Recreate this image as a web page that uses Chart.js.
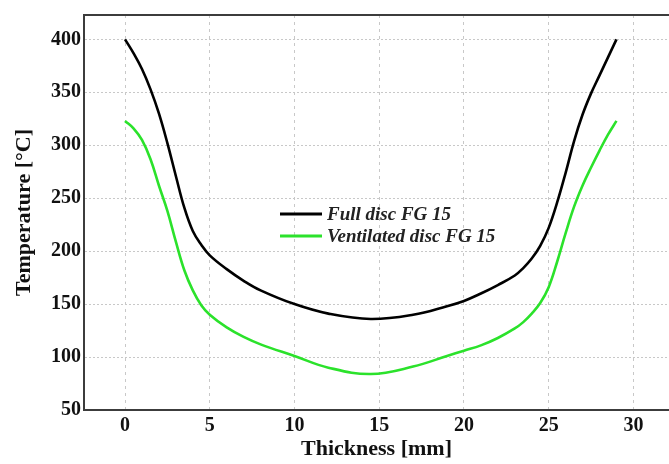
<!DOCTYPE html>
<html>
<head>
<meta charset="utf-8">
<script src="https://cdn.jsdelivr.net/npm/chart.js@4.4.1/dist/chart.umd.min.js"></script>
<style>
  html, body { margin: 0; padding: 0; background: #fff; }
  #wrap { width: 669px; height: 464px; }
</style>
</head>
<body>
<div id="wrap"><canvas id="tempChart" width="669" height="464"></canvas></div>
<script>
// thickness positions [mm]
const thickness = [0, 0.5, 1, 1.5, 2, 2.5, 3, 3.5, 4, 4.5, 5, 6, 7, 8, 10, 12, 14.5, 17, 19, 20, 21, 22, 23, 23.5, 24, 24.5, 25, 25.5, 26, 26.5, 27, 27.5, 28, 28.5, 29];

// temperatures [°C]
const fullDisc = [400, 387, 372, 353, 330, 302, 271, 241, 219, 206, 196, 183, 172, 163, 150, 141, 136, 140, 148, 153, 160, 168, 177, 184, 193, 205, 222, 246, 274, 304, 329, 349, 366, 383, 400];
const ventilatedDisc = [323, 316, 305, 287, 262, 238, 209, 182, 163, 149, 140, 128, 119, 112, 101, 90, 84, 91, 101, 106, 111, 118, 127, 133, 141, 151, 166, 190, 217, 242, 262, 279, 295, 310, 323];

const seriesNames = ["Full disc FG 15", "Ventilated disc FG 15"];
const seriesColors = ["#000000", "#2be22b"];

const xTicks = [0, 5, 10, 15, 20, 25, 30];
const yTicks = [50, 100, 150, 200, 250, 300, 350, 400];

const toPoints = (vals) => vals.map((v, i) => ({ x: thickness[i], y: v }));

const serif = "'Liberation Serif', 'Times New Roman', serif";
const axisColor = "#3c3c3c";
const gridColor = "#c8c8c8";

// top frame line and the legend inside the plot
const framePlugin = {
    id: "frame",
    afterDraw(chart) {
        const { ctx, chartArea } = chart;
        ctx.save();
        ctx.strokeStyle = axisColor;
        ctx.lineWidth = 2;
        ctx.beginPath();
        ctx.moveTo(chartArea.left, chartArea.top);
        ctx.lineTo(chartArea.right, chartArea.top);
        ctx.stroke();

        ctx.font = "italic bold 19px " + serif;
        ctx.textBaseline = "middle";
        seriesNames.forEach((name, i) => {
            const y = 214 + i * 22;
            ctx.strokeStyle = seriesColors[i];
            ctx.lineWidth = 3;
            ctx.beginPath();
            ctx.moveTo(280, y);
            ctx.lineTo(322, y);
            ctx.stroke();
            ctx.fillStyle = "#222";
            ctx.fillText(name, 327, y + 1);
        });
        ctx.restore();
    },
};

const lineStyle = {
    borderWidth: 2.6,
    pointRadius: 0,
    tension: 0.4,
};

const config = {
    type: "line",
    data: {
        datasets: [
            { label: seriesNames[0], data: toPoints(fullDisc), borderColor: seriesColors[0], ...lineStyle },
            { label: seriesNames[1], data: toPoints(ventilatedDisc), borderColor: seriesColors[1], ...lineStyle },
        ],
    },
    options: {
        responsive: false,
        animation: false,
        layout: { padding: { top: 11, right: 0, left: 0, bottom: 0 } },
        plugins: {
            legend: { display: false },
            tooltip: { enabled: false },
        },
        scales: {
            x: {
                type: "linear",
                min: -2.42,
                max: 32.1,
                afterBuildTicks: (scale) => { scale.ticks = xTicks.map((v) => ({ value: v })); },
                afterFit: (scale) => { scale.height = 54; },
                grid: { color: gridColor, drawTicks: false },
                // border.dash sets the dash of the grid lines
                border: { color: axisColor, width: 2, dash: [3, 4] },
                ticks: {
                    padding: 4,
                    color: "#111",
                    font: { family: serif, size: 20, weight: "bold" },
                },
                title: {
                    display: true,
                    text: "Thickness [mm]",
                    color: "#111",
                    padding: { top: 0, bottom: 1 },
                    font: { family: serif, size: 22, weight: "bold" },
                },
            },
            y: {
                min: 50,
                max: 423,
                afterBuildTicks: (scale) => { scale.ticks = yTicks.map((v) => ({ value: v })); },
                afterFit: (scale) => { scale.width = 84; },
                grid: { color: gridColor, drawTicks: false },
                border: { color: axisColor, width: 2, dash: [2, 2] },
                ticks: {
                    padding: 3,
                    color: "#111",
                    font: { family: serif, size: 20, weight: "bold" },
                },
                title: {
                    display: true,
                    text: "Temperature [°C]",
                    color: "#111",
                    padding: { top: 11, bottom: 0 },
                    font: { family: serif, size: 22, weight: "bold" },
                },
            },
        },
    },
    plugins: [framePlugin],
};

new Chart(document.getElementById("tempChart"), config);
</script>
</body>
</html>
